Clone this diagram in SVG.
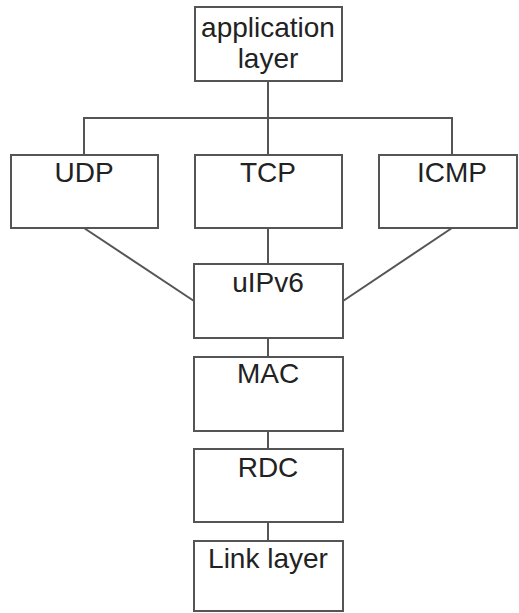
<svg xmlns="http://www.w3.org/2000/svg" width="519" height="613" viewBox="0 0 519 613">
<style>
rect{fill:#fff;stroke:#555;stroke-width:2}
line,polyline{fill:none;stroke:#555;stroke-width:2}
text{font-family:"Liberation Sans",Arial,sans-serif;font-size:28px;fill:#222;text-anchor:middle}
</style>
<rect x="0" y="0" width="519" height="613" style="fill:#fff;stroke:none"/>
<g id="connectors">
<line x1="268" y1="81" x2="268" y2="118"/>
<polyline points="84,155 84,118 452,118 452,155"/>
<line x1="268" y1="118" x2="268" y2="155"/>
<line x1="84" y1="228" x2="194" y2="301"/>
<line x1="452" y1="228" x2="343" y2="301"/>
<line x1="268" y1="228" x2="268" y2="264"/>
<line x1="268" y1="338" x2="268" y2="357"/>
<line x1="268" y1="431" x2="268" y2="449"/>
<line x1="268" y1="522" x2="268" y2="541"/>
</g>
<g id="app"><rect x="195" y="7" width="147" height="74"/><text x="268" y="37">application</text><text x="268" y="68">layer</text></g>
<g id="udp"><rect x="11" y="155" width="147" height="73"/><text x="84" y="182">UDP</text></g>
<g id="tcp"><rect x="195" y="155" width="147" height="73"/><text x="268" y="182">TCP</text></g>
<g id="icmp"><rect x="379" y="155" width="138" height="73"/><text x="452" y="182">ICMP</text></g>
<g id="uipv6"><rect x="194" y="264" width="149" height="74"/><text x="268" y="292">uIPv6</text></g>
<g id="mac"><rect x="194" y="357" width="149" height="74"/><text x="268" y="383">MAC</text></g>
<g id="rdc"><rect x="194" y="449" width="149" height="73"/><text x="268" y="477">RDC</text></g>
<g id="link"><rect x="194" y="541" width="149" height="70"/><text x="268" y="568">Link layer</text></g>
</svg>
